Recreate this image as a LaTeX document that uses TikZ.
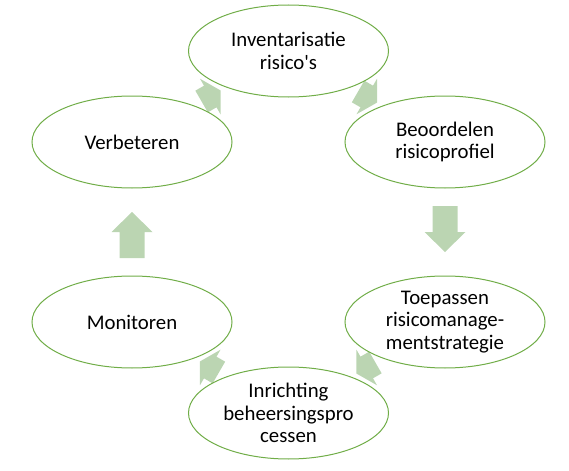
\documentclass[tikz,border=0pt]{standalone}
\usepackage{fontspec}
\setmainfont{Carlito}
\usepackage{tikz}
\usetikzlibrary{shapes.geometric,calc,backgrounds}

\definecolor{stagegreen}{RGB}{112,173,71}
\definecolor{arrowgreen}{RGB}{187,213,178}

\tikzset{
  stage/.style={ellipse, draw=stagegreen, line width=0.75pt, fill=white,
    minimum width=150pt, minimum height=69pt, inner sep=0pt, align=center,
    text=black, font=\fontsize{15.6}{17}\selectfont},
  blockarrow/.style={fill=arrowgreen}
}

% block arrow half way between two stages, turned by #3
% #4 = shaft length, #5 = head length
\newcommand{\stagearrow}[5]{%
  \fill [blockarrow, shift={($(#1)!0.5!(#2)$)}, rotate=#3]
    (-#4,-12.5) -- (0,-12.5) -- (0,-20.5) -- (#5,0) -- (0,20.5) -- (0,12.5) -- (-#4,12.5) -- cycle;}

\begin{document}
\begin{tikzpicture}[x=0.75pt, y=-0.75pt]
\useasboundingbox (0,0) rectangle (569,471);

\node [stage] (inv) at (288.5,51) {Inventarisatie\\risico\textquotesingle s};
\node [stage] (beo) at (445,142) {Beoordelen\\risicoprofiel};
\node [stage] (toe) at (445,322) {Toepassen\\risicomanage-\\mentstrategie};
\node [stage] (inr) at (288.5,413) {Inrichting\\beheersingspro\\cessen};
\node [stage] (mon) at (132,322) {Monitoren};
\node [stage] (ver) at (132,142) {Verbeteren};

\begin{scope}[on background layer]
\stagearrow{inv}{beo}{-30}{10}{12}
\stagearrow{beo}{toe}{-90}{26}{20}
\stagearrow{toe}{inr}{210}{10}{12}
\stagearrow{inr}{mon}{150}{10}{12}
\stagearrow{mon}{ver}{90}{26}{20}
\stagearrow{ver}{inv}{30}{10}{12}
\end{scope}

\end{tikzpicture}
\end{document}
